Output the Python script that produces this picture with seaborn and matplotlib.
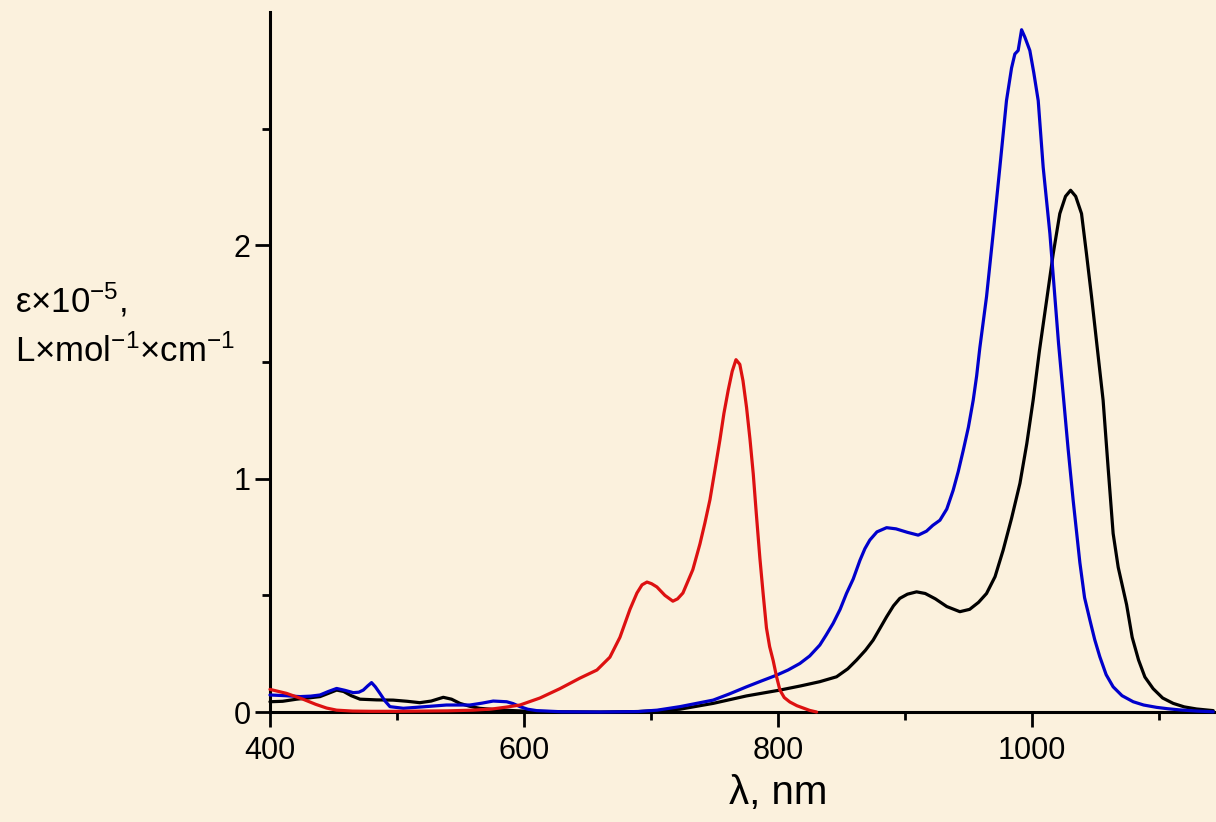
import matplotlib
matplotlib.use('Agg')
import matplotlib.pyplot as plt
import seaborn as sns
import pandas as pd
from matplotlib.ticker import FixedLocator

# absorption spectra, eps x 1e-5 vs wavelength (nm)
red_nm = [400, 413, 426, 436, 444.6, 452.5, 465, 480, 500, 520, 540, 560, 575, 586, 596.9,
          612.6, 628.3, 644, 657.5, 667.7, 675.6, 683.5, 689, 693, 696.9, 700.5, 704.7, 711,
          717.3, 721, 725.2, 733, 738.6, 742.5, 746.5, 750.5, 754.3, 757.5, 760.9, 764, 767,
          770, 772.5, 775.3, 778, 780.6, 783, 785.8, 788.5, 791, 793.5, 796.3, 799, 801.6,
          805, 809.4, 815, 820, 825, 830.5]
red_eps = [0.097, 0.08, 0.055, 0.033, 0.017, 0.008, 0.004, 0.003, 0.003, 0.004, 0.005, 0.008,
           0.013, 0.021, 0.03, 0.06, 0.10, 0.145, 0.18, 0.235, 0.32, 0.44, 0.51, 0.545, 0.557,
           0.55, 0.536, 0.50, 0.475, 0.485, 0.51, 0.61, 0.72, 0.81, 0.91, 1.04, 1.165, 1.28,
           1.38, 1.46, 1.51, 1.49, 1.42, 1.306, 1.17, 1.02, 0.85, 0.66, 0.50, 0.36, 0.28,
           0.22, 0.15, 0.094, 0.062, 0.043, 0.027, 0.017, 0.007, 0.0]

black_nm = [400, 410, 421, 430, 439.4, 446, 452.5, 458, 464, 470.9, 484, 497, 508, 518, 527,
            536.5, 543, 549.6, 557, 565, 578, 591.6, 605, 630, 660, 690, 705, 722.8, 749,
            775.3, 801.6, 818, 833, 846.2, 855, 862, 869, 875, 880, 885.6, 891, 896, 902,
            909.2, 916, 924, 933, 943.3, 951, 958, 964.3, 971, 977.4, 984, 990.6, 996, 1001,
            1006, 1011.6, 1016.8, 1022, 1026.5, 1030.5, 1034.5, 1039.1, 1043, 1047, 1051.5,
            1056.1, 1060, 1064, 1068, 1074.6, 1079, 1084, 1089, 1095.5, 1103, 1111.3, 1120,
            1129.7, 1142.8]
black_eps = [0.044, 0.046, 0.055, 0.06, 0.066, 0.08, 0.094, 0.088, 0.07, 0.055, 0.052, 0.051,
             0.046, 0.04, 0.047, 0.063, 0.055, 0.037, 0.025, 0.016, 0.01, 0.006, 0.003, 0.001,
             0.0, 0.002, 0.006, 0.012, 0.037, 0.069, 0.094, 0.112, 0.13, 0.151, 0.185, 0.223,
             0.265, 0.308, 0.355, 0.408, 0.455, 0.487, 0.505, 0.515, 0.508, 0.485, 0.452, 0.43,
             0.44, 0.47, 0.508, 0.58, 0.694, 0.83, 0.98, 1.15, 1.336, 1.55, 1.764, 1.964,
             2.136, 2.21, 2.236, 2.21, 2.136, 1.964, 1.78, 1.56, 1.336, 1.05, 0.765, 0.62,
             0.46, 0.32, 0.223, 0.15, 0.10, 0.06, 0.037, 0.022, 0.013, 0.006]

blue_nm = [400, 412, 423.6, 432, 439.4, 446, 452.5, 459, 465.6, 470, 473.5, 477, 480, 483,
           486.6, 490.5, 494.5, 505, 520, 539, 557.5, 567, 575.8, 586.4, 591.5, 596.9, 603,
           610, 630, 660, 690, 705, 722.8, 749, 762, 775.3, 787, 799, 808, 817.3, 825, 833,
           838, 843.5, 849, 854, 859.3, 864.6, 868.5, 872.4, 878, 885.6, 893, 902, 910.5,
           917, 922, 927.6, 933, 938, 942, 945.9, 950, 953.8, 956.5, 959, 964.3, 969.5,
           974.8, 980, 984, 986.6, 989.2, 991.9, 994.5, 998.4, 1001.5, 1005, 1008.9, 1014.2,
           1018.1, 1021, 1024.6, 1028.5, 1032.5, 1037.8, 1041.5, 1045.7, 1049.5, 1053.5,
           1058.5, 1064, 1071, 1079.8, 1088, 1098.2, 1107, 1116.5, 1130, 1142.8]
blue_eps = [0.073, 0.07, 0.066, 0.068, 0.073, 0.088, 0.101, 0.093, 0.083, 0.085, 0.094, 0.112,
            0.126, 0.108, 0.08, 0.048, 0.023, 0.016, 0.022, 0.03, 0.03, 0.038, 0.047, 0.044,
            0.036, 0.023, 0.012, 0.006, 0.001, 0.0, 0.002, 0.008, 0.023, 0.051, 0.078, 0.108,
            0.133, 0.158, 0.18, 0.208, 0.24, 0.287, 0.33, 0.38, 0.44, 0.508, 0.57, 0.65, 0.70,
            0.737, 0.772, 0.79, 0.785, 0.77, 0.758, 0.775, 0.80, 0.822, 0.87, 0.95, 1.03, 1.12,
            1.22, 1.336, 1.44, 1.56, 1.78, 2.05, 2.335, 2.62, 2.76, 2.82, 2.835, 2.924, 2.892,
            2.835, 2.74, 2.62, 2.335, 2.05, 1.78, 1.58, 1.365, 1.13, 0.908, 0.64, 0.49, 0.394,
            0.31, 0.237, 0.16, 0.108, 0.07, 0.044, 0.03, 0.02, 0.014, 0.009, 0.004, 0.001]

x_major = [400, 600, 800, 1000]
x_minor = [500, 700, 900, 1100]
y_major = [0, 1, 2]
y_minor = [0.5, 1.5, 2.5]

bg = '#fbf1dd'

sns.set_theme(style='ticks')
plt.rcParams['font.family'] = ['Liberation Sans', 'DejaVu Sans']
plt.rcParams['mathtext.fontset'] = 'custom'
plt.rcParams['mathtext.rm'] = 'Liberation Sans'
plt.rcParams['mathtext.it'] = 'Liberation Sans:italic'
plt.rcParams['mathtext.bf'] = 'Liberation Sans:bold'
plt.rcParams['text.color'] = 'black'
plt.rcParams['xtick.labelcolor'] = 'black'
plt.rcParams['ytick.labelcolor'] = 'black'

fig = plt.figure(figsize=(12.16, 8.22), dpi=100, facecolor=bg)
ax = fig.add_axes([0.222, 0.1338, 0.778, 0.8516])
ax.set_facecolor(bg)

spectra = [
    (black_nm, black_eps, 'black'),
    (blue_nm, blue_eps, '#0000cc'),
    (red_nm, red_eps, '#dd1111'),
]
for nm, eps, col in spectra:
    df = pd.DataFrame({'nm': nm, 'eps': eps})
    sns.lineplot(data=df, x='nm', y='eps', color=col, linewidth=2.3, ax=ax,
                 estimator=None, sort=False, clip_on=False)

ax.set_xlim(400, 1145)
ax.set_ylim(0, 3.0)
sns.despine(ax=ax)
for s in ['left', 'bottom']:
    ax.spines[s].set_linewidth(2.2)
    ax.spines[s].set_color('black')
    ax.spines[s].set_zorder(1)

ax.xaxis.set_major_locator(FixedLocator(x_major))
ax.xaxis.set_minor_locator(FixedLocator(x_minor))
ax.yaxis.set_major_locator(FixedLocator(y_major))
ax.yaxis.set_minor_locator(FixedLocator(y_minor))
ax.set_yticklabels([str(v) for v in y_major])
ax.tick_params(axis='x', which='major', direction='out', length=11, width=2, labelsize=22,
               pad=6, color='black', labelcolor='black')
ax.tick_params(axis='x', which='minor', direction='out', length=6, width=2, color='black')
ax.tick_params(axis='y', which='major', direction='out', length=11, width=2, labelsize=22,
               pad=3, color='black', labelcolor='black')
ax.tick_params(axis='y', which='minor', direction='out', length=6, width=2, color='black')
ax.set_xlabel('')
ax.set_ylabel('')

fig.text(0.64, 0.022, 'λ, nm', fontsize=29, ha='center', va='baseline', color='black')
fig.text(0.012, 0.62, 'ε×10$^{-5}$,', fontsize=25, ha='left', va='baseline', color='black')
fig.text(0.012, 0.56, 'L×mol$^{-1}$×cm$^{-1}$', fontsize=25, ha='left', va='baseline',
         color='black')

fig.savefig('out.png', dpi=100, facecolor=bg)
